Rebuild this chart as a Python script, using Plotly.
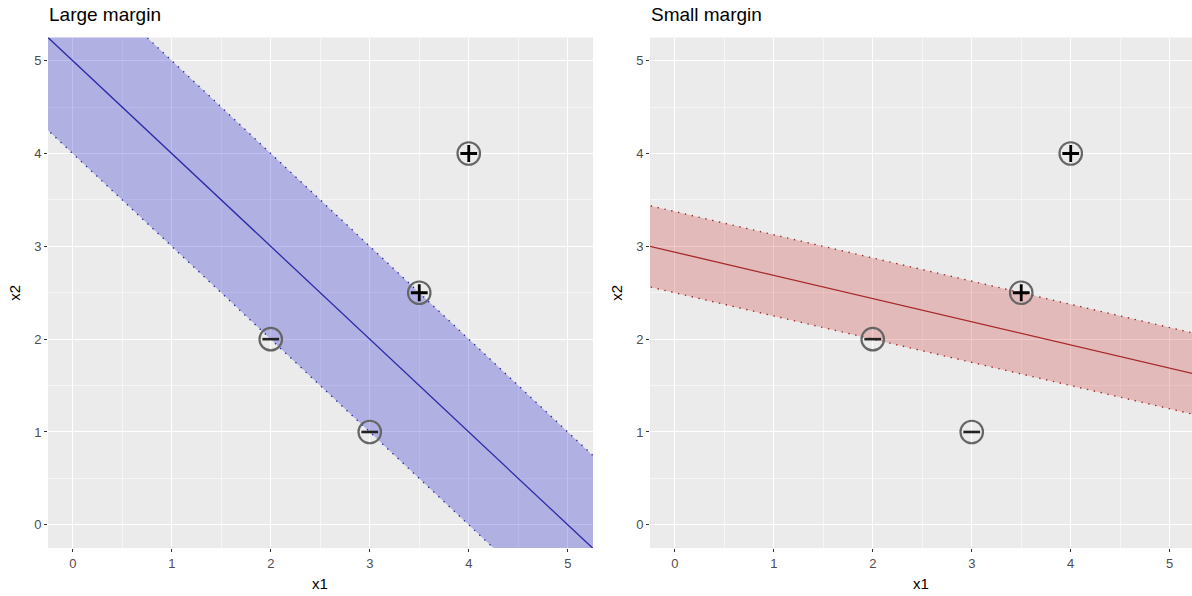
import numpy as np
import plotly.graph_objects as go

# Training points
neg_x1 = [2, 3]
neg_x2 = [2, 1]
pos_x1 = [3.5, 4]
pos_x2 = [2.5, 4]

# Separating lines: x2 = intercept + slope * x1, margin half-width in x2 units
panels = [
    dict(title="Large margin", intercept=5.0, slope=-1.0, half=1.0,
         line="#2B2BA8", fill="rgba(0,0,205,0.25)"),
    dict(title="Small margin", intercept=2.9375, slope=-0.25, half=0.4375,
         line="#A62828", fill="rgba(205,40,40,0.25)"),
]

tick_vals = [0, 1, 2, 3, 4, 5]
tick_text = ["0", "1", "2", "3", "4", "5"]

W, H = 1192, 596
x_doms = [[48 / W, 593 / W], [650 / W, 1.0]]
x_ranges = [[-0.25, 5.255], [-0.25, 5.225]]
y_dom = [48 / H, (H - 37.5) / H]
y_range = [-0.25, 5.25]

fig = go.Figure()
xs = np.array([-1.0, 6.5])

for i, p in enumerate(panels):
    xa = "x" if i == 0 else "x2"
    ya = "y" if i == 0 else "y2"
    b, m, h = p["intercept"], p["slope"], p["half"]
    lo = b - h + m * xs
    hi = b + h + m * xs
    # margin band
    fig.add_trace(go.Scatter(
        x=list(xs) + list(xs[::-1]), y=list(lo) + list(hi[::-1]),
        fill="toself", fillcolor=p["fill"], mode="none",
        hoverinfo="skip", xaxis=xa, yaxis=ya, showlegend=False))
    # dotted margin edges
    for edge in (lo, hi):
        fig.add_trace(go.Scatter(
            x=xs, y=edge, mode="lines",
            line=dict(color=p["line"], width=1.4, dash="1.4px,5.6px"),
            xaxis=xa, yaxis=ya, showlegend=False))
    # decision boundary
    fig.add_trace(go.Scatter(
        x=xs, y=b + m * xs, mode="lines",
        line=dict(color=p["line"], width=1.3),
        xaxis=xa, yaxis=ya, showlegend=False))
    # point circles
    fig.add_trace(go.Scatter(
        x=neg_x1 + pos_x1, y=neg_x2 + pos_x2, mode="markers",
        marker=dict(symbol="circle-open", size=22.5, color="#666666",
                    line=dict(width=2.2)),
        xaxis=xa, yaxis=ya, showlegend=False))
    # class signs
    fig.add_trace(go.Scatter(
        x=neg_x1, y=neg_x2, mode="markers",
        marker=dict(symbol="line-ew-open", size=12, color="#222222",
                    line=dict(width=2.6)),
        xaxis=xa, yaxis=ya, showlegend=False))
    fig.add_trace(go.Scatter(
        x=pos_x1, y=pos_x2, mode="markers",
        marker=dict(symbol="cross-thin-open", size=12, color="#000000",
                    line=dict(width=2.8)),
        xaxis=xa, yaxis=ya, showlegend=False))

axis_common = dict(
    showgrid=True, gridcolor="#FFFFFF", gridwidth=1.3,
    zeroline=False, showline=False,
    ticks="outside", ticklen=3, tickwidth=1.1, tickcolor="#333333",
    tickfont=dict(family="Liberation Sans, Arial", size=13, color="#4D4D4D"),
    minor=dict(dtick=0.5, showgrid=True, gridcolor="#F6F6F6", gridwidth=0.7,
               ticks=""),
    tickmode="array", tickvals=tick_vals, ticktext=tick_text,
    fixedrange=True,
)

fig.update_layout(
    width=W, height=H,
    margin=dict(l=0, r=0, t=0, b=0),
    paper_bgcolor="#FFFFFF", plot_bgcolor="#EBEBEB",
    xaxis=dict(domain=x_doms[0], range=x_ranges[0], anchor="y", **axis_common),
    yaxis=dict(domain=y_dom, range=y_range, anchor="x", **axis_common),
    xaxis2=dict(domain=x_doms[1], range=x_ranges[1], anchor="y2", **axis_common),
    yaxis2=dict(domain=y_dom, range=y_range, anchor="x2", **axis_common),
    font=dict(family="Liberation Sans, Arial"),
)

ann = []
for i, p in enumerate(panels):
    ann.append(dict(text=p["title"], xref="paper", yref="paper",
                    x=x_doms[i][0] - 1 / W, y=(H - 14.5) / H,
                    xanchor="left", yanchor="middle", showarrow=False,
                    font=dict(size=19, color="#000000")))
    cx = (x_doms[i][0] + min(x_doms[i][1], (x_doms[i][0] * W + 544.5) / W)) / 2
    ann.append(dict(text="x1", xref="paper", yref="paper",
                    x=cx, y=(H - 583) / H, xanchor="center", yanchor="middle",
                    showarrow=False, font=dict(size=15, color="#000000")))
    ann.append(dict(text="x2", xref="paper", yref="paper",
                    x=(x_doms[i][0] * W - 33) / W, y=(y_dom[0] + y_dom[1]) / 2,
                    xanchor="center", yanchor="middle", textangle=-90,
                    showarrow=False, font=dict(size=15, color="#000000")))
fig.update_layout(annotations=ann)

fig.write_html("out.html")
